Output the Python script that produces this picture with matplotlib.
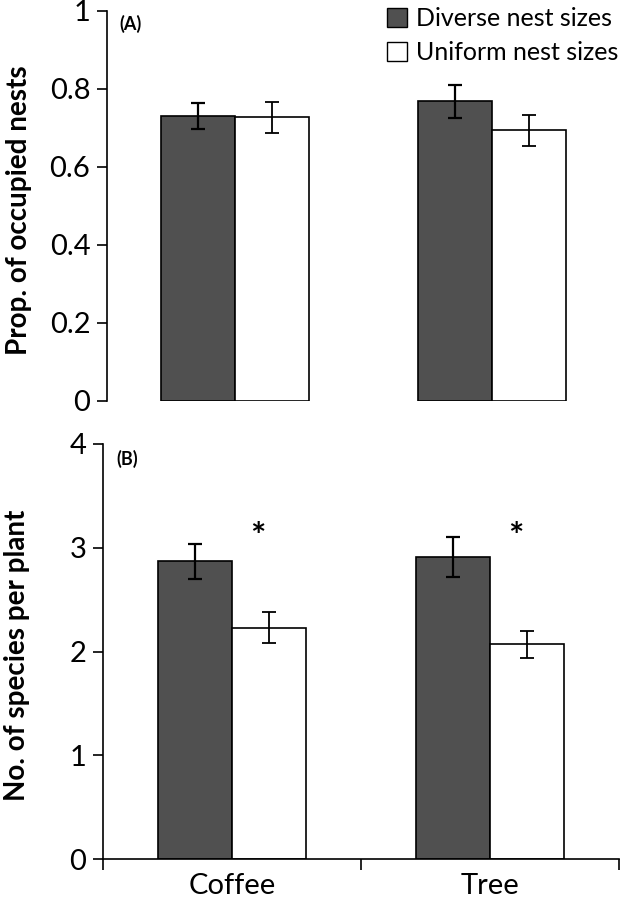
import matplotlib.pyplot as plt
from matplotlib.patches import Patch
import numpy as np

plt.rcParams['font.family'] = ['Lato', 'DejaVu Sans']

sites = ['Coffee', 'Tree']
series = ['Diverse nest sizes', 'Uniform nest sizes']

# (A) proportion of occupied nests
occ_diverse = [0.730, 0.768]
occ_diverse_err = [0.034, 0.042]
occ_uniform = [0.727, 0.694]
occ_uniform_err = [0.040, 0.040]

# (B) species per plant
spp_diverse = [2.87, 2.91]
spp_diverse_err = [0.17, 0.19]
spp_uniform = [2.23, 2.07]
spp_uniform_err = [0.15, 0.13]
signif = ['*', '*']

dark = '#505050'
w = 0.288
x = np.arange(len(sites))

fig = plt.figure(figsize=(6.22, 9.05), dpi=100)
axA = fig.add_axes([0.172, 0.557, 0.826, 0.431])
axB = fig.add_axes([0.1656, 0.0508, 0.8296, 0.4586])


def draw(ax, d, de, u, ue):
    ax.bar(x - w / 2, d, w, color=dark, edgecolor='black', linewidth=1.2, zorder=2)
    ax.bar(x + w / 2, u, w, color='white', edgecolor='black', linewidth=1.2, zorder=2)
    ax.errorbar(x - w / 2, d, yerr=de, fmt='none', ecolor='black',
                elinewidth=1.6, capsize=5, capthick=1.6, zorder=3)
    ax.errorbar(x + w / 2, u, yerr=ue, fmt='none', ecolor='black',
                elinewidth=1.3, capsize=5, capthick=1.3, zorder=3)
    ax.set_xlim(-0.5, len(sites) - 0.5)
    for s in ['top', 'right']:
        ax.spines[s].set_visible(False)
    ax.spines['left'].set_linewidth(1.2)
    ax.tick_params(axis='y', direction='out', length=7, width=1.2,
                   labelsize=21, pad=5)


draw(axA, occ_diverse, occ_diverse_err, occ_uniform, occ_uniform_err)
axA.set_ylim(0, 1)
axA.set_yticks([0, 0.2, 0.4, 0.6, 0.8, 1.0])
axA.set_yticklabels(['0', '0.2', '0.4', '0.6', '0.8', '1'])
axA.spines['bottom'].set_visible(False)
axA.set_xticks([])
axA.set_ylabel('Prop. of occupied nests', fontsize=20, fontweight='bold')
axA.yaxis.set_label_coords(-0.145, 0.49)
axA.text(0.025, 0.99, '(A)', transform=axA.transAxes, fontsize=13,
         fontweight='bold', va='top', ha='left')

draw(axB, spp_diverse, spp_diverse_err, spp_uniform, spp_uniform_err)
axB.set_ylim(0, 4)
axB.set_yticks([0, 1, 2, 3, 4])
axB.spines['bottom'].set_linewidth(1.2)
axB.set_xticks([-0.5, 0.5, 1.5])
axB.set_xticklabels([])
axB.tick_params(axis='x', which='major', direction='out', length=8, width=1.2)
axB.set_xticks(x, minor=True)
axB.set_xticklabels(sites, minor=True)
axB.tick_params(axis='x', which='minor', length=0, labelsize=21, pad=10)
axB.set_ylabel('No. of species per plant', fontsize=20, fontweight='bold')
axB.yaxis.set_label_coords(-0.142, 0.49)
axB.text(0.025, 0.985, '(B)', transform=axB.transAxes, fontsize=13,
         fontweight='bold', va='top', ha='left')
for i, s in enumerate(signif):
    axB.text(x[i] + 0.1, 3.1, s, fontsize=26, fontweight='bold',
             ha='center', va='center')

handles = [Patch(facecolor=dark, edgecolor='black', label=series[0]),
           Patch(facecolor='white', edgecolor='black', label=series[1])]
fig.legend(handles=handles, loc='upper right', bbox_to_anchor=(1.03, 1.017),
           frameon=False, fontsize=18, handlelength=0.8, handleheight=0.8,
           handletextpad=0.35, labelspacing=0.45)

fig.savefig('out.png', dpi=100)
